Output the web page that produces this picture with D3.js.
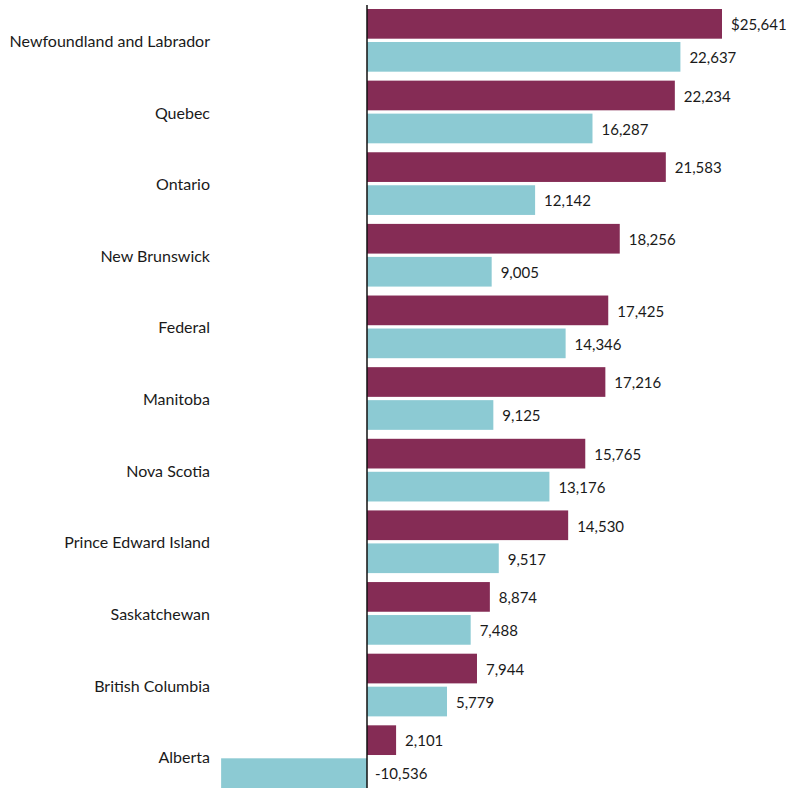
<!DOCTYPE html>
<html>
<head>
<meta charset="utf-8">
<script src="https://cdn.jsdelivr.net/npm/d3@7"></script>
<style>
  body { margin: 0; background: #fff; }
  text { font-family: Lato, "Open Sans", sans-serif; fill: #1a1a1a; }
</style>
</head>
<body>
<div id="chart"></div>
<script>
var width = 792, height = 788;

// data
var provinces = ["Newfoundland and Labrador", "Quebec", "Ontario", "New Brunswick", "Federal",
                 "Manitoba", "Nova Scotia", "Prince Edward Island", "Saskatchewan",
                 "British Columbia", "Alberta"];
var seriesA = [25641, 22234, 21583, 18256, 17425, 17216, 15765, 14530, 8874, 7944, 2101];
var seriesB = [22637, 16287, 12142, 9005, 14346, 9125, 13176, 9517, 7488, 5779, -10536];
var seriesKeys = ["a", "b"];
var colors = {a: "#852c55", b: "#8ccad3"};

var rows = provinces.map(function(p, i) {
  return {name: p, a: seriesA[i], b: seriesB[i]};
});

var svg = d3.select("#chart").append("svg")
    .attr("width", width)
    .attr("height", height);

// x: value -> display
var x = d3.scaleLinear()
    .domain([0, 25641])
    .range([367, 722]);

// y: province band, then series within
var y = d3.scaleBand()
    .domain(provinces)
    .range([9, 788])
    .paddingInner(0.125)
    .paddingOuter(0);

var ySub = d3.scaleBand()
    .domain(seriesKeys)
    .range([0, y.bandwidth()])
    .paddingInner(0.1);

var fmt = d3.format(",");

var groups = svg.selectAll(".row")
    .data(rows)
    .enter().append("g")
    .attr("class", "row")
    .attr("transform", function(d) { return "translate(0," + y(d.name) + ")"; });

// province labels
groups.append("text")
    .attr("x", 210)
    .attr("y", y.bandwidth() / 2 + 1)
    .attr("dy", "0.35em")
    .attr("text-anchor", "end")
    .style("font-size", "16px")
    .text(function(d) { return d.name; });

var bars = groups.selectAll(".bar")
    .data(function(d, i) {
      return seriesKeys.map(function(k) { return {key: k, value: d[k], first: i === 0}; });
    })
    .enter();

bars.append("rect")
    .attr("class", "bar")
    .attr("x", function(d) { return x(Math.min(0, d.value)); })
    .attr("y", function(d) { return ySub(d.key); })
    .attr("width", function(d) { return Math.abs(x(d.value) - x(0)); })
    .attr("height", ySub.bandwidth())
    .style("fill", function(d) { return colors[d.key]; });

// value labels
bars.append("text")
    .attr("x", function(d) { return d.value < 0 ? x(0) + 8 : x(d.value) + 9; })
    .attr("y", function(d) { return ySub(d.key) + ySub.bandwidth() / 2 + 1; })
    .attr("dy", "0.35em")
    .style("font-size", "15px")
    .text(function(d) {
      return (d.first && d.key === "a" ? "$" : "") + fmt(d.value).replace("\u2212", "-");
    });

// zero line
svg.append("line")
    .attr("x1", x(0)).attr("x2", x(0))
    .attr("y1", 5).attr("y2", height)
    .style("stroke", "#111")
    .style("stroke-width", 1.5);
</script>
</body>
</html>
